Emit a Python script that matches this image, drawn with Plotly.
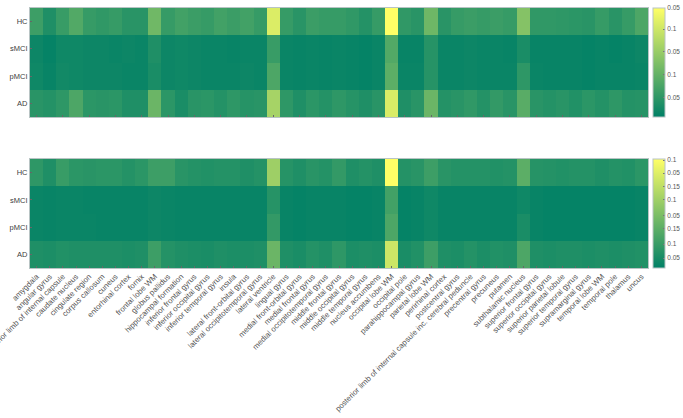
import plotly.graph_objects as go

regions = [
    "amygdala", "angular gyrus", "anterior limb of internal capsule", "caudate nucleus",
    "cingulate region", "corpus callosum", "cuneus", "entorhinal cortex", "fornix",
    "frontal lobe WM", "globus pallidus", "hippocampal formation", "inferior frontal gyrus",
    "inferior occipital gyrus", "inferior temporal gyrus", "insula",
    "lateral front-orbital gyrus", "lateral occipitotemporal gyrus", "lateral ventricle",
    "lingual gyrus", "medial front-orbital gyrus", "medial frontal gyrus",
    "medial occipitotemporal gyrus", "middle frontal gyrus", "middle occipital gyrus",
    "middle temporal gyrus", "nucleus accumbens", "occipital lobe WM", "occipital pole",
    "parahippocampal gyrus", "parietal lobe WM", "perirhinal cortex", "postcentral gyrus",
    "posterior limb of internal capsule inc. cerebral peduncle", "precentral gyrus",
    "precuneus", "putamen", "subthalamic nucleus", "superior frontal gyrus",
    "superior occipital gyrus", "superior parietal lobule", "superior temporal gyrus",
    "supramarginal gyrus", "temporal lobe WM", "temporal pole", "thalamus", "uncus",
]
groups = ["HC", "sMCI", "pMCI", "AD"]

# top heatmap (normalised colour values)
top_hc = [0.24, 0.12, 0.22, 0.32, 0.21, 0.19, 0.21, 0.16, 0.16, 0.44, 0.21, 0.26, 0.23, 0.21,
          0.26, 0.23, 0.26, 0.21, 0.86, 0.21, 0.16, 0.23, 0.21, 0.21, 0.19, 0.14, 0.21, 1.00,
          0.19, 0.16, 0.43, 0.16, 0.21, 0.23, 0.21, 0.23, 0.21, 0.52, 0.19, 0.19, 0.18, 0.17,
          0.16, 0.21, 0.16, 0.21, 0.30]
top_smci = [0.05, 0.02, 0.06, 0.06, 0.05, 0.05, 0.04, 0.05, 0.04, 0.12, 0.05, 0.06, 0.05, 0.04,
            0.04, 0.03, 0.04, 0.04, 0.22, 0.04, 0.03, 0.04, 0.03, 0.04, 0.03, 0.02, 0.04, 0.32,
            0.03, 0.03, 0.15, 0.04, 0.04, 0.05, 0.04, 0.04, 0.03, 0.10, 0.03, 0.03, 0.03, 0.03,
            0.02, 0.03, 0.02, 0.03, 0.05]
top_pmci = [0.06, 0.03, 0.07, 0.06, 0.05, 0.05, 0.05, 0.04, 0.04, 0.10, 0.05, 0.06, 0.05, 0.04,
            0.04, 0.04, 0.05, 0.04, 0.30, 0.04, 0.03, 0.04, 0.03, 0.04, 0.03, 0.02, 0.04, 0.36,
            0.04, 0.04, 0.15, 0.04, 0.04, 0.05, 0.04, 0.04, 0.04, 0.18, 0.04, 0.03, 0.03, 0.03,
            0.02, 0.03, 0.03, 0.03, 0.04]
top_ad = [0.16, 0.14, 0.18, 0.30, 0.17, 0.16, 0.17, 0.12, 0.12, 0.42, 0.17, 0.10, 0.16, 0.17,
          0.14, 0.18, 0.15, 0.16, 0.65, 0.18, 0.12, 0.17, 0.14, 0.18, 0.15, 0.12, 0.16, 0.85,
          0.12, 0.16, 0.42, 0.14, 0.16, 0.19, 0.14, 0.20, 0.16, 0.35, 0.16, 0.14, 0.16, 0.13,
          0.17, 0.14, 0.18, 0.14, 0.15]

# bottom heatmap
bot_hc = [0.18, 0.12, 0.22, 0.17, 0.16, 0.17, 0.17, 0.14, 0.17, 0.24, 0.24, 0.16, 0.14, 0.13,
          0.14, 0.14, 0.12, 0.14, 0.62, 0.15, 0.12, 0.16, 0.14, 0.20, 0.12, 0.14, 0.12, 1.00,
          0.14, 0.16, 0.24, 0.16, 0.14, 0.14, 0.14, 0.13, 0.14, 0.36, 0.15, 0.14, 0.13, 0.14,
          0.14, 0.12, 0.14, 0.13, 0.17]
bot_smci = [0.04, 0.03, 0.04, 0.04, 0.03, 0.03, 0.03, 0.03, 0.03, 0.05, 0.04, 0.03, 0.03, 0.03,
            0.03, 0.03, 0.03, 0.03, 0.15, 0.03, 0.02, 0.03, 0.03, 0.03, 0.02, 0.02, 0.03, 0.26,
            0.02, 0.03, 0.06, 0.03, 0.03, 0.03, 0.03, 0.03, 0.03, 0.06, 0.03, 0.02, 0.02, 0.02,
            0.02, 0.02, 0.02, 0.02, 0.03]
bot_pmci = [0.04, 0.03, 0.04, 0.04, 0.04, 0.03, 0.03, 0.03, 0.03, 0.05, 0.04, 0.03, 0.03, 0.03,
            0.03, 0.03, 0.03, 0.03, 0.20, 0.03, 0.02, 0.03, 0.03, 0.03, 0.02, 0.02, 0.03, 0.30,
            0.02, 0.03, 0.06, 0.03, 0.03, 0.03, 0.03, 0.03, 0.03, 0.10, 0.03, 0.02, 0.02, 0.02,
            0.02, 0.02, 0.02, 0.02, 0.03]
bot_ad = [0.12, 0.11, 0.13, 0.12, 0.12, 0.12, 0.12, 0.11, 0.12, 0.24, 0.14, 0.12, 0.11, 0.10,
          0.12, 0.11, 0.11, 0.12, 0.42, 0.12, 0.10, 0.14, 0.12, 0.18, 0.11, 0.12, 0.11, 0.80,
          0.10, 0.13, 0.24, 0.12, 0.11, 0.14, 0.11, 0.13, 0.12, 0.30, 0.12, 0.11, 0.12, 0.12,
          0.11, 0.12, 0.11, 0.12, 0.13]

top_cb_vals = [1.0, 0.806, 0.602, 0.389, 0.176]
top_cb_text = ["0.05", "0.1", "0.05", "0.1", "0.05"]
bot_cb_vals = [0.99, 0.87, 0.75, 0.63, 0.48, 0.36, 0.22, 0.09]
bot_cb_text = ["0.1", "0.05", "0.15", "0.1", "0.05", "0.15", "0.1", "0.05"]

summer = [[0.0, "rgb(0,128,102)"], [1.0, "rgb(255,255,102)"]]
W, H = 683, 418
x0, x1 = 30 / W, 648 / W
top_y = (1 - 117 / H, 1 - 8 / H)
bot_y = (1 - 268 / H, 1 - 159 / H)
font = "Liberation Sans, Arial, sans-serif"
txtc = "#404040"
linec = "#b8c4c4"

fig = go.Figure()


def cbar(yrange, vals, text):
    return dict(
        x=653 / W, xanchor="left", xpad=0, ypad=0, thickness=12,
        y=(yrange[0] + yrange[1]) / 2, yanchor="middle", len=yrange[1] - yrange[0],
        lenmode="fraction", tickvals=vals, ticktext=text, ticks="inside", ticklen=2,
        tickcolor="#777", outlinewidth=1, outlinecolor=linec,
        tickfont=dict(size=6.5, color="#555", family=font),
    )


fig.add_trace(go.Heatmap(
    z=[top_hc, top_smci, top_pmci, top_ad], x=regions, y=groups,
    colorscale=summer, zmin=0, zmax=1, xaxis="x", yaxis="y",
    colorbar=cbar(top_y, top_cb_vals, top_cb_text),
))
fig.add_trace(go.Heatmap(
    z=[bot_hc, bot_smci, bot_pmci, bot_ad], x=regions, y=groups,
    colorscale=summer, zmin=0, zmax=1, xaxis="x2", yaxis="y2",
    colorbar=cbar(bot_y, bot_cb_vals, bot_cb_text),
))

axcommon = dict(showline=True, mirror=True, linecolor=linec, linewidth=1,
                ticks="inside", ticklen=2, tickcolor="#666", showgrid=False,
                zeroline=False)
fig.update_layout(
    width=W, height=H, margin=dict(l=0, r=0, t=0, b=0),
    paper_bgcolor="white", plot_bgcolor="white",
    font=dict(family=font, color=txtc, size=7),
    xaxis=dict(domain=[x0, x1], anchor="y", showticklabels=False, **axcommon),
    yaxis=dict(domain=list(top_y), anchor="x", autorange="reversed",
               tickfont=dict(size=7.5, color=txtc), **axcommon),
    xaxis2=dict(domain=[x0, x1], anchor="y2", tickangle=-45,
                tickfont=dict(size=7.8, color="#505050"), automargin=False, **axcommon),
    yaxis2=dict(domain=list(bot_y), anchor="x2", autorange="reversed",
                tickfont=dict(size=7.5, color=txtc), **axcommon),
)

fig.write_html("out.html")
